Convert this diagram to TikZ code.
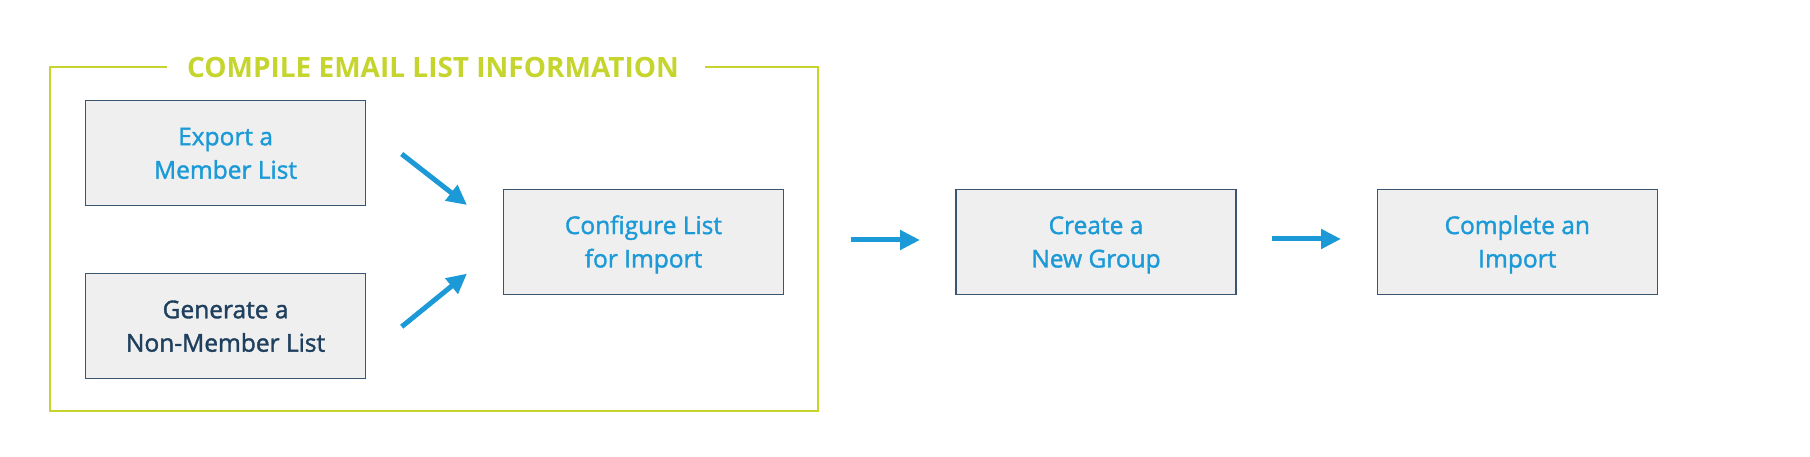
\documentclass[tikz,border=0pt]{standalone}
\usepackage{fontspec}
\setmainfont{Open Sans}
\newfontfamily\semib{Open Sans}[FakeBold=1.5]
\usetikzlibrary{arrows.meta}
\definecolor{lime}{HTML}{C5D52E}
\definecolor{sky}{HTML}{1B9AD7}
\definecolor{navy}{HTML}{1E3F5D}
\definecolor{boxfill}{HTML}{EFEFEF}
\definecolor{boxline}{HTML}{3A5570}
\tikzset{
  stepbox/.style={draw=boxline, line width=1.3pt, fill=boxfill, minimum width=280pt, minimum height=105pt, align=center, inner sep=0pt, text height=51.3pt, text depth=-6pt, font=\semib\fontsize{24.5}{33.4}\selectfont, text=sky},
  flow/.style={draw=sky, line width=5pt, -{Triangle[length=20pt,width=19pt]}},
  frameline/.style={draw=lime, line width=2pt}
}
\begin{document}
\begin{tikzpicture}[x=1pt,y=-1pt]
\useasboundingbox (0,0) rectangle (1810,457);
% frame
\coordinate (fl) at (167,67);
\coordinate (fr) at (705,67);
\draw[frameline] (fl) -- (49.6,67) -- (49.6,411) -- (818.4,411) -- (818.4,67) -- (fr);
\node[text=lime, font=\bfseries\fontsize{28}{30}\selectfont, inner sep=0pt] (title) at (433,67) {COMPILE EMAIL LIST INFORMATION};
% boxes
\node[stepbox] (b1) at (225.6,153) {Export a\\Member List};
\node[stepbox, text=navy] (b2) at (225.6,326) {Generate a\\Non-Member List};
\node[stepbox] (b3) at (643.5,241.8) {Configure List\\for Import};
\node[stepbox] (b4) at (1096,241.8) {Create a\\New Group};
\node[stepbox] (b5) at (1517.3,241.8) {Complete an\\Import};
% arrows
\coordinate (a1s) at (401.7,154);
\coordinate (a1e) at (467,205);
\coordinate (a2s) at (401.7,326.7);
\coordinate (a2e) at (467,273.6);
\coordinate (a3s) at (850.7,240);
\coordinate (a3e) at (920,240);
\coordinate (a4s) at (1272,239);
\coordinate (a4e) at (1341,239);
\draw[flow] (a1s) -- (a1e);
\draw[flow] (a2s) -- (a2e);
\draw[flow] (a3s) -- (a3e);
\draw[flow] (a4s) -- (a4e);
\end{tikzpicture}
\end{document}
